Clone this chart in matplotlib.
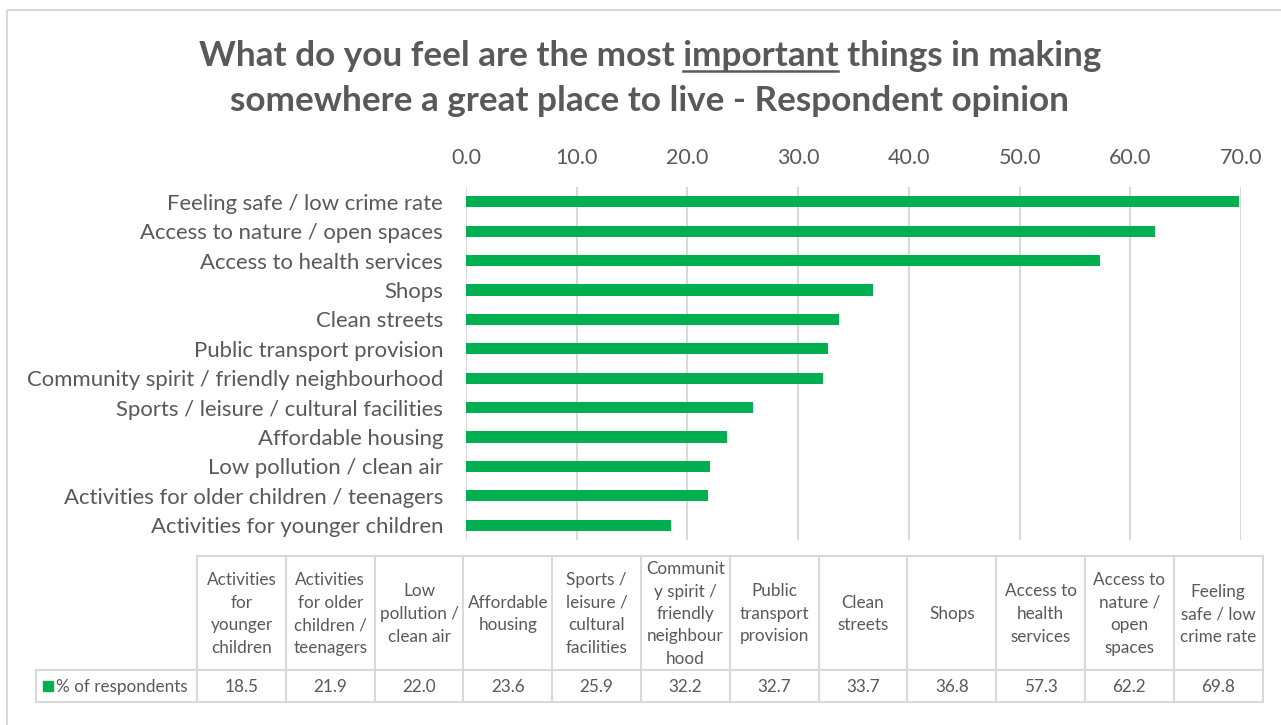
import matplotlib
matplotlib.use("Agg")
import matplotlib.pyplot as plt
from matplotlib.patches import Rectangle

plt.rcParams['font.family'] = ['Lato', 'DejaVu Sans']

categories = ["Activities for younger children", "Activities for older children / teenagers",
              "Low pollution / clean air", "Affordable housing",
              "Sports / leisure / cultural facilities", "Community spirit / friendly neighbourhood",
              "Public transport provision", "Clean streets", "Shops",
              "Access to health services", "Access to nature / open spaces",
              "Feeling safe / low crime rate"]
table_headers = ["Activities\nfor\nyounger\nchildren", "Activities\nfor older\nchildren /\nteenagers",
                 "Low\npollution /\nclean air", "Affordable\nhousing",
                 "Sports /\nleisure /\ncultural\nfacilities", "Communit\ny spirit /\nfriendly\nneighbour\nhood",
                 "Public\ntransport\nprovision", "Clean\nstreets", "Shops",
                 "Access to\nhealth\nservices", "Access to\nnature /\nopen\nspaces",
                 "Feeling\nsafe / low\ncrime rate"]
values = [18.5, 21.9, 22.0, 23.6, 25.9, 32.2, 32.7, 33.7, 36.8, 57.3, 62.2, 69.8]
series_name = "% of respondents"
xticks = [0, 10, 20, 30, 40, 50, 60, 70]

W, H = 1281, 725
TXT = "#595959"
GRID = "#d9d9d9"
GREEN = "#00b050"

fig = plt.figure(figsize=(W / 100, H / 100), dpi=100)

# overlay axes in pixel coordinates
ov = fig.add_axes([0, 0, 1, 1])
ov.set_xlim(0, W)
ov.set_ylim(H, 0)
ov.axis("off")

# outer border
ov.add_patch(Rectangle((7, 10), 1300, 740, fill=False, edgecolor=GRID, lw=1.5))

# main axes
x0, x1 = 466, 1241
y0, y1 = 187, 540
ax = fig.add_axes([x0 / W, 1 - y1 / H, (x1 - x0) / W, (y1 - y0) / H])
ypos = list(range(len(categories)))
ax.barh(ypos, values, height=0.38, color=GREEN, zorder=3)
ax.set_xlim(0, 70)
ax.set_ylim(-0.5, len(categories) - 0.5)
ax.set_xticks(xticks)
ax.set_xticklabels([f"{t:.1f}" for t in xticks])
ax.xaxis.tick_top()
ax.tick_params(axis="x", length=0, labelsize=15.5, colors=TXT, pad=14)
ax.set_yticks(ypos)
ax.set_yticklabels(categories)
ax.tick_params(axis="y", length=0, labelsize=15.9, colors=TXT, pad=16.5)
ax.grid(axis="x", color=GRID, lw=1.5, zorder=0)
for s in ax.spines.values():
    s.set_visible(False)

# title
line1 = "What do you feel are the most important things in making"
line2 = "somewhere a great place to live - Respondent opinion"
TFS = 25.3
tkw = dict(fontsize=TFS, fontweight="bold", color=TXT, ha="center", va="baseline")
cx = 650
t1 = ov.text(cx, 66, line1, **tkw)
ov.text(cx, 111, line2, **tkw)

fig.canvas.draw()
r = fig.canvas.get_renderer()
bb = t1.get_window_extent(r)
pre = ov.text(0, 0, "What do you feel are the most ", fontsize=TFS, fontweight="bold")
imp = ov.text(0, 0, "important", fontsize=TFS, fontweight="bold")
wpre = pre.get_window_extent(r).width
wimp = imp.get_window_extent(r).width
pre.remove(); imp.remove()
ux0 = bb.x0 + wpre
ov.plot([ux0, ux0 + wimp], [71, 71], color=TXT, lw=1.8)

# data table
tx0 = 197
cw = 88.8
ty0, ty1, ty2 = 556, 670, 702
n = len(values)
tx1 = tx0 + cw * n
lkw = dict(color=GRID, lw=1.5)
ov.plot([tx0, tx1], [ty0, ty0], **lkw)
ov.plot([36, tx1], [ty1, ty1], **lkw)
ov.plot([36, tx1], [ty2, ty2], **lkw)
ov.plot([36, 36], [ty1, ty2], **lkw)
for i in range(n + 1):
    xx = tx0 + cw * i
    ov.plot([xx, xx], [ty0, ty2], **lkw)
for i, (h, v) in enumerate(zip(table_headers, values)):
    xc = tx0 + cw * (i + 0.5)
    ov.text(xc, (ty0 + ty1) / 2 + 1, h, ha="center", va="center", fontsize=12.3,
            color=TXT, linespacing=1.5)
    ov.text(xc, (ty1 + ty2) / 2 + 1, f"{v:.1f}", ha="center", va="center",
            fontsize=12.3, color=TXT)
ov.add_patch(Rectangle((43, 681), 10, 10, color=GREEN))
ov.text(56, (ty1 + ty2) / 2 + 1, series_name, ha="left", va="center", fontsize=12.3, color=TXT)

fig.savefig("out.png", dpi=100)
